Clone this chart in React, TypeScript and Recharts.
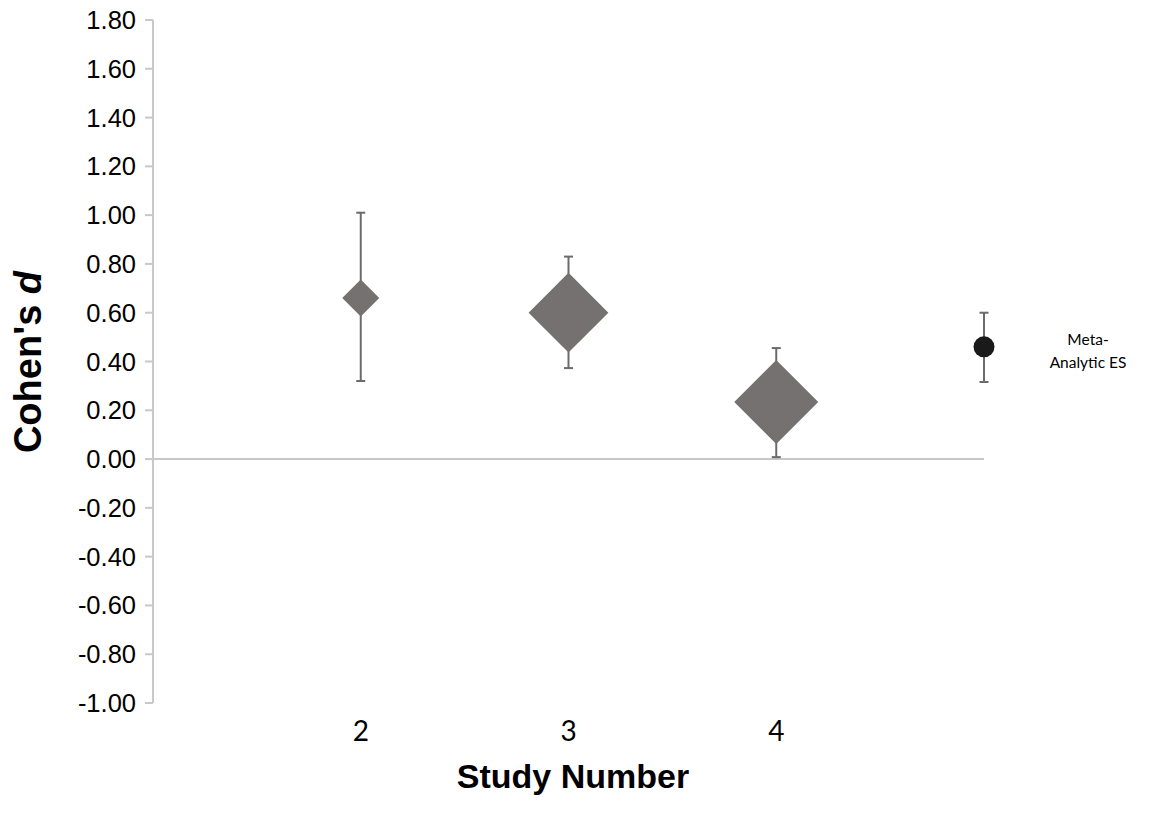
import React from 'react';
import { ScatterChart, Scatter, XAxis, YAxis, ErrorBar, ReferenceLine, Label } from 'recharts';

// study effect sizes (Cohen's d) with 95% CI
const studies = [2, 3, 4];
const studyD = [0.66, 0.6, 0.234];
const studyLower = [0.32, 0.373, 0.008];
const studyUpper = [1.01, 0.83, 0.455];
const studyWeight = [0.44, 0.95, 1.0];

// meta-analytic effect
const metaX = [5];
const metaD = [0.46];
const metaLower = [0.316];
const metaUpper = [0.6];

const yTicks = [-1, -0.8, -0.6, -0.4, -0.2, 0, 0.2, 0.4, 0.6, 0.8, 1, 1.2, 1.4, 1.6, 1.8];
const xTicks = [2, 3, 4];

const studyData = studies.map((x, i) => ({
  x, d: studyD[i], w: studyWeight[i],
  err: [studyD[i] - studyLower[i], studyUpper[i] - studyD[i]],
}));
const metaData = metaX.map((x, i) => ({
  x, d: metaD[i],
  err: [metaD[i] - metaLower[i], metaUpper[i] - metaD[i]],
}));

const Diamond = (props: any) => {
  const { cx, cy, payload } = props;
  const h = 42 * payload.w;
  return <polygon points={`${cx},${cy - h} ${cx + h},${cy} ${cx},${cy + h} ${cx - h},${cy}`} fill="#767171" />;
};

const MetaDot = (props: any) => {
  const { cx, cy } = props;
  return (
    <g>
      <circle cx={cx} cy={cy} r={10.5} fill="#1a1a1a" />
      <text textAnchor="middle" fontFamily="Lato, sans-serif" fontSize={15.5} fill="#000">
        <tspan x={cx + 104} y={cy - 2}>Meta-</tspan>
        <tspan x={cx + 104} y={cy + 21}>Analytic ES</tspan>
      </text>
    </g>
  );
};

export default function App() {
  return (
    <div style={{ position: 'absolute', left: 0, top: 0, background: '#fff' }}>
      <ScatterChart width={1150} height={819} margin={{ top: 20, right: 166, left: 73, bottom: 56 }}>
        <XAxis type="number" dataKey="x" domain={[1, 5]} ticks={xTicks} axisLine={false} tickLine={false}
          tickMargin={12} height={60}
          tick={{ fill: '#000', fontSize: 28, fontFamily: 'Lato, sans-serif' }}>
          <Label content={() => (
            <text x={573} y={788} textAnchor="middle" fontFamily="'Liberation Sans', Arial, sans-serif"
              fontWeight="bold" fontSize={34} fill="#000">Study Number</text>
          )} />
        </XAxis>
        <YAxis type="number" dataKey="d" domain={[-1, 1.8]} ticks={yTicks} allowDataOverflow width={80}
          interval={0} tickFormatter={(v: number) => v.toFixed(2)}
          axisLine={{ stroke: '#c8c8c8', strokeWidth: 2 }} tickLine={{ stroke: '#c8c8c8', strokeWidth: 2 }}
          tickSize={8} tickMargin={9}
          tick={{ fill: '#000', fontSize: 25.5, fontFamily: "'Liberation Sans', Arial, sans-serif" }}>
          <Label content={() => (
            <text x={41} y={362} transform="rotate(-90 41 362)" textAnchor="middle"
              fontFamily="'Liberation Sans', Arial, sans-serif" fontWeight="bold" fontSize={38} fill="#000">
              <tspan>Cohen's </tspan><tspan fontStyle="italic">d</tspan>
            </text>
          )} />
        </YAxis>
        <ReferenceLine y={0} stroke="#c8c8c8" strokeWidth={2} />
        <Scatter data={studyData} shape={<Diamond />} isAnimationActive={false}>
          <ErrorBar dataKey="err" direction="y" width={4.5} stroke="#6b6b6b" strokeWidth={2} />
        </Scatter>
        <Scatter data={metaData} shape={<MetaDot />} isAnimationActive={false}>
          <ErrorBar dataKey="err" direction="y" width={4.5} stroke="#6b6b6b" strokeWidth={2} />
        </Scatter>
      </ScatterChart>
    </div>
  );
}
